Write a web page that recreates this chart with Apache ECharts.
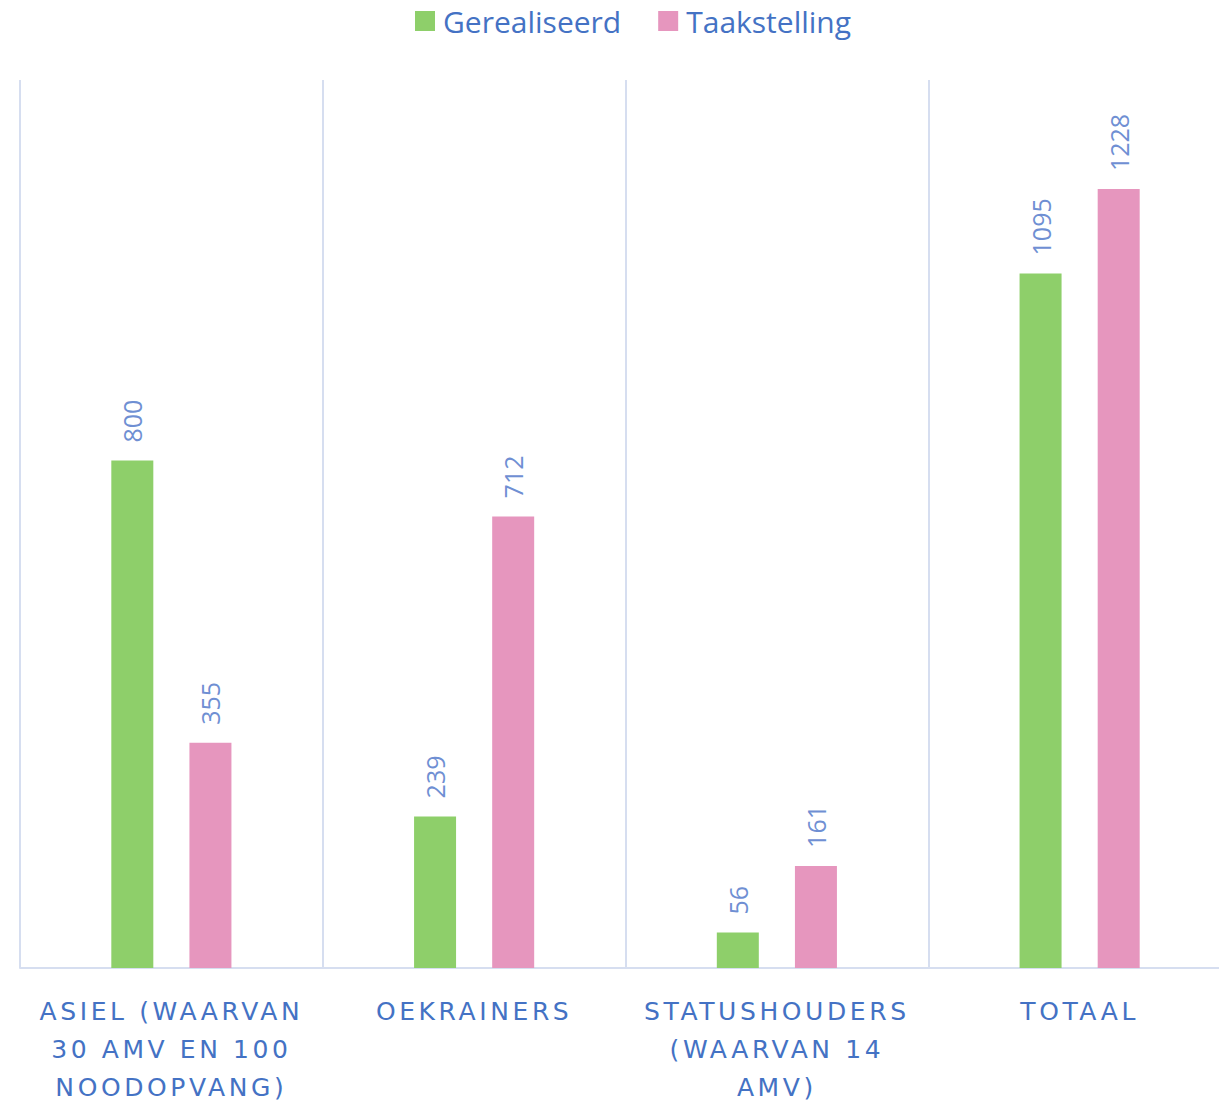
<!DOCTYPE html>
<html><head><meta charset="utf-8">
<script src="https://cdn.jsdelivr.net/npm/echarts@6/dist/echarts.min.js"></script>
<style>html,body{margin:0;padding:0;background:#fff}#c{width:1219px;height:1101px}</style>
</head><body><div id="c"></div>
<script>
const categories = ['ASIEL (WAARVAN\n30 AMV EN 100\nNOODOPVANG)', 'OEKRAINERS', 'STATUSHOUDERS\n(WAARVAN 14\nAMV)', 'TOTAAL'];
const gerealiseerd = [800, 239, 56, 1095];
const taakstelling = [355, 712, 161, 1228];
const seriesNames = ['Gerealiseerd', 'Taakstelling'];

const chart = echarts.init(document.getElementById('c'), null, {renderer: 'svg'});
const labelCfg = {show: true, position: 'top', rotate: 90, align: 'left', verticalAlign: 'middle', distance: 18, color: '#6f8fd3', fontSize: 25, fontFamily: 'Open Sans'};
chart.setOption({
  animation: false,
  legend: {top: 1, left: 410, itemWidth: 20, itemHeight: 20, itemGap: 37, icon: 'rect',
    textStyle: {color: '#4472c4', fontSize: 30, fontFamily: 'Open Sans', padding: [0, 0, 0, 3]}, data: seriesNames},
  grid: {left: 20, right: -12, top: 80, bottom: 133, containLabel: false, outerBoundsMode: 'none'},
  xAxis: {type: 'category', data: categories,
    axisLine: {lineStyle: {color: '#d6def0', width: 2}},
    axisTick: {show: false},
    splitLine: {show: true, lineStyle: {color: '#d6def0', width: 2}},
    axisLabel: {color: '#4472c4', fontSize: 25, fontFamily: 'DejaVu Sans', lineHeight: 38, margin: 24, interval: 0}},
  yAxis: {type: 'value', min: 0, max: 1400, show: false, splitLine: {show: false}},
  series: [
    {name: seriesNames[0], type: 'bar', data: gerealiseerd, barWidth: 42, barGap: '86%', itemStyle: {color: '#8ecf6a'}, label: labelCfg},
    {name: seriesNames[1], type: 'bar', data: taakstelling, barWidth: 42, itemStyle: {color: '#e696be'}, label: labelCfg}
  ]
});
const labelLines = new Set(categories.join('\n').split('\n'));
function spaceLabels() {
  document.querySelectorAll('#c svg text').forEach(function (t) {
    if (labelLines.has(t.textContent.trim())) {
      t.style.letterSpacing = '3.6px';
      t.setAttribute('letter-spacing', '3.6');
    }
  });
}
spaceLabels();
chart.on('finished', spaceLabels);
setTimeout(spaceLabels, 50);
</script></body></html>
